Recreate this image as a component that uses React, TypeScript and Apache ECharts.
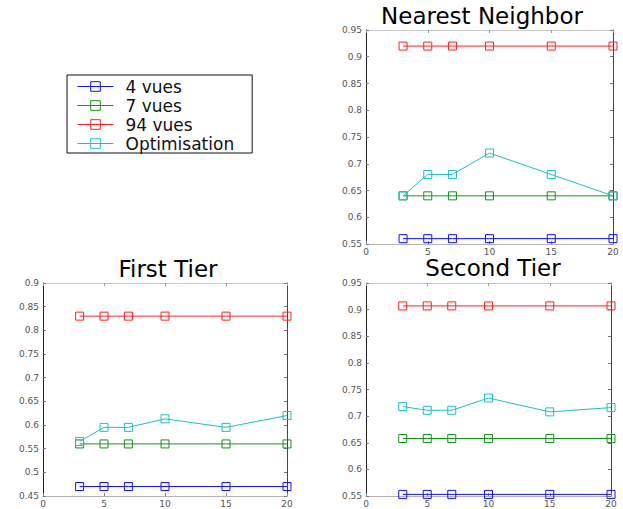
import React, { useEffect, useRef } from "react";
import * as echarts from "echarts";

const xValues = [3, 5, 7, 10, 15, 20];
const seriesNames = ["4 vues", "7 vues", "94 vues", "Optimisation"];
const seriesColors = ["#1010ff", "#18901a", "#ff2020", "#20c0c0"];

const panelTitles = ["Nearest Neighbor", "First Tier", "Second Tier"];

// Nearest Neighbor
const nn4 = [0.56, 0.56, 0.56, 0.56, 0.56, 0.56];
const nn7 = [0.64, 0.64, 0.64, 0.64, 0.64, 0.64];
const nn94 = [0.92, 0.92, 0.92, 0.92, 0.92, 0.92];
const nnOpt = [0.64, 0.68, 0.68, 0.72, 0.68, 0.64];

// First Tier
const ft4 = [0.47, 0.47, 0.47, 0.47, 0.47, 0.47];
const ft7 = [0.56, 0.56, 0.56, 0.56, 0.56, 0.56];
const ft94 = [0.83, 0.83, 0.83, 0.83, 0.83, 0.83];
const ftOpt = [0.565, 0.595, 0.595, 0.613, 0.595, 0.62];

// Second Tier
const st4 = [0.553, 0.553, 0.553, 0.553, 0.553, 0.553];
const st7 = [0.658, 0.658, 0.658, 0.658, 0.658, 0.658];
const st94 = [0.907, 0.907, 0.907, 0.907, 0.907, 0.907];
const stOpt = [0.718, 0.711, 0.711, 0.734, 0.708, 0.716];

const panelData = [
  [nn4, nn7, nn94, nnOpt],
  [ft4, ft7, ft94, ftOpt],
  [st4, st7, st94, stOpt],
];
const yMins = [0.55, 0.45, 0.55];
const yMaxs = [0.95, 0.9, 0.95];
const yInterval = 0.05;
const xMin = 0;
const xMax = 20;
const xInterval = 5;

const FONT = "DejaVu Sans";

export default function App() {
  const ref = useRef<HTMLDivElement>(null);

  useEffect(() => {
    if (!ref.current) return;
    const chart = echarts.init(ref.current, null, { renderer: "svg" });

    const grids = [
      { left: 366, top: 30, width: 247, height: 214 },
      { left: 43, top: 283, width: 244, height: 213 },
      { left: 366, top: 283, width: 245, height: 213 },
    ];
    const titlePos = [
      [482, 16],
      [168, 269],
      [493, 268],
    ];

    const xAxes: any[] = [];
    const yAxes: any[] = [];
    const series: any[] = [];

    grids.forEach((_, g) => {
      xAxes.push({
        gridIndex: g,
        type: "value",
        position: "bottom",
        min: xMin,
        max: xMax,
        interval: xInterval,
        axisLine: { show: true, onZero: false, lineStyle: { color: "#b4b4b4", width: 1 } },
        axisTick: { show: true, inside: true, length: 3, lineStyle: { color: "#888" } },
        axisLabel: { fontFamily: FONT, fontSize: 9, color: "#555", margin: 3 },
        splitLine: { show: false },
      });
      xAxes.push({
        gridIndex: g,
        type: "value",
        position: "top",
        min: xMin,
        max: xMax,
        interval: xInterval,
        axisLine: { show: true, onZero: false, lineStyle: { color: "#c8c8c8", width: 1 } },
        axisTick: { show: true, inside: true, length: 3, lineStyle: { color: "#999" } },
        axisLabel: { show: false },
        splitLine: { show: false },
      });
      yAxes.push({
        gridIndex: g,
        type: "value",
        position: "left",
        min: yMins[g],
        max: yMaxs[g],
        interval: yInterval,
        axisLine: { show: true, onZero: false, lineStyle: { color: "#222", width: 1 } },
        axisTick: { show: true, inside: true, length: 3, lineStyle: { color: "#777" } },
        axisLabel: {
          fontFamily: FONT,
          fontSize: 9,
          color: "#555",
          margin: 4,
          showMinLabel: true,
          showMaxLabel: true,
        },
        splitLine: { show: false },
      });
      yAxes.push({
        gridIndex: g,
        type: "value",
        position: "right",
        min: yMins[g],
        max: yMaxs[g],
        interval: yInterval,
        axisLine: { show: true, onZero: false, lineStyle: { color: "#444", width: 1 } },
        axisTick: { show: true, inside: true, length: 3, lineStyle: { color: "#777" } },
        axisLabel: { show: false },
        splitLine: { show: false },
      });

      panelData[g].forEach((vals, s) => {
        const c = seriesColors[s];
        series.push({
          type: "line",
          name: seriesNames[s],
          xAxisIndex: g * 2,
          yAxisIndex: g * 2,
          data: xValues.map((x, i) => [x, vals[i]]),
          symbol: "rect",
          symbolSize: 8,
          clip: false,
          lineStyle: { color: c, width: 1 },
          itemStyle: { color: "rgba(0,0,0,0)", borderColor: c, borderWidth: 1 },
          emphasis: { disabled: true },
          z: 2 + s,
        });
      });
    });

    chart.setOption({
      animation: false,
      backgroundColor: "#ffffff",
      grid: grids,
      xAxis: xAxes,
      yAxis: yAxes,
      series,
      legend: {
        data: seriesNames,
        orient: "vertical",
        left: 67,
        top: 75,
        itemWidth: 36,
        itemHeight: 12,
        itemGap: 2,
        padding: [3, 18, 1, 10],
        borderColor: "#111",
        borderWidth: 1,
        backgroundColor: "#fff",
        lineStyle: { width: 1 },
        itemStyle: { borderWidth: 1 },
        textStyle: {
          fontFamily: FONT,
          fontSize: 17,
          color: "#111",
          lineHeight: 14,
          padding: [0, 0, 0, 7],
        },
      },
      graphic: panelTitles.map((t, i) => ({
        type: "text",
        x: titlePos[i][0],
        y: titlePos[i][1],
        style: {
          text: t,
          fontFamily: FONT,
          fontSize: 23,
          fill: "#000",
          textAlign: "center",
          textVerticalAlign: "middle",
        },
      })),
    });

    return () => chart.dispose();
  }, []);

  return (
    <div
      ref={ref}
      style={{ position: "absolute", left: 0, top: 0, width: 623, height: 509 }}
    />
  );
}
